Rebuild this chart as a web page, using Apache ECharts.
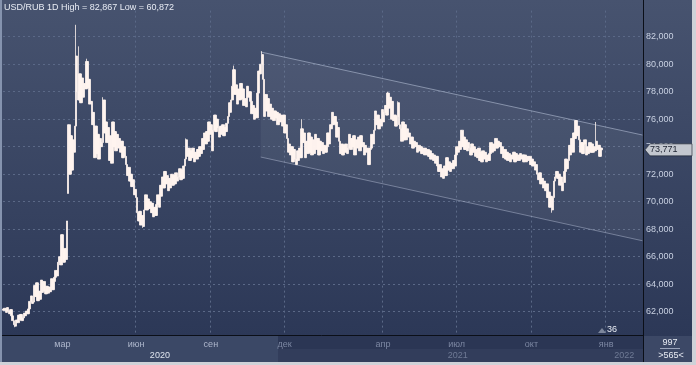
<!DOCTYPE html>
<html>
<head>
<meta charset="utf-8">
<script src="https://cdn.jsdelivr.net/npm/echarts@6/dist/echarts.min.js"></script>
<style>
html,body{margin:0;padding:0;background:#cfd2d8;}
#c{width:696px;height:365px;}
</style>
</head>
<body>
<div id="c"></div>
<script>
// ---- data ----
const startDate = '2019-12-19';   // first trading day shown
const slotCount = 565;            // visible bar slots (data + right offset)
const firstOpen = 62.20;
const closes = [
62.10,62.25,61.95,62.30,62.05,61.85,62.15,61.70,61.35,61.05,
60.95,61.40,61.20,61.75,61.45,61.80,61.35,61.55,61.90,61.70,
62.05,61.85,62.20,62.75,63.15,62.60,62.70,63.90,63.10,64.10,
62.80,63.50,62.90,64.30,63.40,64.20,63.50,63.30,63.85,63.35,
63.80,63.45,64.40,63.60,64.20,64.50,65.00,64.60,65.60,66.00,
65.40,67.60,66.40,65.60,66.60,65.80,68.60,75.60,72.00,74.80,
72.30,74.50,73.60,75.50,80.60,78.00,77.40,79.30,77.20,79.00,
77.60,78.60,78.20,80.20,78.30,78.90,77.10,77.30,75.60,76.50,
73.20,75.50,73.50,74.90,73.10,74.60,74.00,74.30,77.40,75.00,
75.80,74.30,75.40,73.00,74.80,72.80,75.80,74.00,75.10,73.70,
74.90,73.90,74.60,73.60,74.40,73.20,74.00,73.30,72.70,71.90,
72.50,71.50,72.00,71.10,71.60,70.50,70.90,70.30,69.20,68.60,
69.30,68.30,69.00,68.20,69.40,70.50,69.40,70.20,69.50,70.00,
69.20,69.90,68.90,69.60,69.00,69.80,70.50,69.60,71.20,70.40,
71.80,71.00,72.20,71.30,71.90,70.80,71.70,71.00,72.00,71.20,
71.90,71.30,72.10,71.50,71.80,72.40,71.60,72.30,71.70,72.60,
73.10,74.50,73.30,73.90,73.00,73.70,73.20,73.90,72.90,73.60,
73.10,73.80,73.30,74.00,73.50,74.60,73.80,75.00,74.20,75.10,
74.40,75.80,74.90,75.60,73.70,75.20,76.30,75.10,76.00,75.40,
74.70,75.50,74.90,75.60,74.80,75.40,75.10,75.70,76.20,77.20,
76.50,77.40,78.40,79.60,77.80,78.50,77.10,78.20,77.40,78.60,
77.50,78.20,77.00,77.50,76.90,78.40,77.60,78.00,77.30,76.40,
77.00,76.00,76.80,76.10,77.90,79.50,79.30,80.00,80.70,78.90,
76.20,77.80,76.60,77.50,76.20,77.10,76.00,76.80,75.90,76.60,
76.10,76.50,75.60,76.40,75.80,76.30,75.50,76.30,75.00,75.60,
74.60,73.60,74.20,73.40,74.00,72.90,73.80,73.10,72.70,73.70,
73.00,73.90,73.20,75.30,74.30,75.00,73.20,74.40,73.50,75.00,
73.60,74.70,73.40,74.50,73.50,74.90,73.80,74.60,73.40,74.40,
73.70,74.30,73.50,74.10,73.60,74.00,75.00,74.20,75.60,75.30,
76.50,75.60,76.20,75.80,74.70,75.40,74.40,73.50,74.20,73.40,
74.10,73.60,74.20,73.50,73.90,74.90,73.80,74.60,74.00,74.80,
73.40,74.50,73.90,74.70,73.70,74.80,74.00,74.30,73.40,74.10,
73.60,73.90,72.70,73.80,73.90,74.90,74.20,75.20,76.60,75.60,
76.30,75.30,76.00,75.50,76.70,75.80,76.50,77.00,76.30,77.90,
76.80,77.60,76.00,77.30,75.90,76.30,75.50,76.20,77.20,75.60,
75.30,74.40,75.80,74.50,75.60,74.50,75.30,74.70,75.00,74.20,
74.70,73.90,74.40,74.00,74.30,73.60,74.10,73.70,74.00,73.50,
73.90,73.40,73.90,73.40,73.80,73.30,73.70,73.10,73.50,73.00,
73.40,72.80,73.30,72.60,72.20,72.70,71.80,72.40,71.70,72.60,
71.90,73.20,72.30,72.90,72.20,72.80,72.40,73.00,72.60,73.40,
74.00,73.60,74.40,73.80,75.20,74.00,74.70,73.80,74.50,73.70,
74.30,73.90,73.40,74.20,73.60,74.00,73.30,73.80,73.20,73.90,
73.00,73.60,72.90,73.70,73.10,73.60,72.90,73.40,73.00,73.50,
74.30,73.60,74.20,73.70,74.60,73.90,74.40,74.00,74.30,73.50,
74.00,73.20,73.80,73.10,73.60,73.00,73.50,72.90,73.40,73.10,
73.60,72.90,73.50,73.00,73.40,73.00,73.50,73.10,73.40,72.90,
73.40,72.90,73.30,73.00,73.30,72.70,73.10,72.60,72.90,72.30,
72.70,72.00,71.60,72.10,71.30,71.70,71.00,71.50,70.80,71.30,
70.30,70.70,69.60,70.40,69.40,70.30,71.50,71.80,72.20,71.70,
72.00,71.20,71.80,70.80,71.40,72.20,73.10,72.40,73.00,74.10,
73.40,74.60,73.60,75.00,74.60,75.90,74.80,75.50,74.50,73.60,
74.30,73.50,74.20,74.50,73.40,74.00,73.50,74.30,73.60,74.20,
73.60,74.00,73.70,74.40,73.80,74.10,73.30,73.90,73.771
];
const gapOpens = {57: 70.60};
const wickHighs = {64: 82.867, 66: 81.30, 73: 80.40, 88: 77.60, 161: 74.60, 203: 79.90, 228: 80.95, 263: 76.00, 339: 78.00, 348: 77.30, 505: 75.95, 523: 75.80};
const wickLows = {10: 60.872, 484: 69.20, 123: 68.10};
const channelUpper = [[227, 80.89], [564, 74.85]];
const channelLower = [[227, 73.25], [564, 67.16]];
const monthTicks = [['2020-03-02','мар'],['2020-06-01','июн'],['2020-09-01','сен'],['2020-12-01','дек'],
                    ['2021-04-01','апр'],['2021-07-01','июл'],['2021-10-01','окт'],['2022-01-03','янв']];
const brightMonths = ['мар','июн','сен'];
const yearTicks = [[138,'2020'],[401,'2021'],[548,'2022']];
const title = 'USD/RUB 1D High = 82,867 Low = 60,872';
const rightOffsetLabel = '36';
const barsTotal = '997';
const barsVisible = '>565<';

// ---- build ----
function buildCategories() {
  const out = [];
  const d = new Date(startDate + 'T00:00:00Z');
  while (out.length < slotCount) {
    const w = d.getUTCDay();
    if (w !== 0 && w !== 6) out.push(d.toISOString().slice(0, 10));
    d.setUTCDate(d.getUTCDate() + 1);
  }
  return out;
}
const categories = buildCategories();
const candles = closes.map((c, i) => {
  const o = gapOpens[i] !== undefined ? gapOpens[i] : (i === 0 ? firstOpen : closes[i - 1]);
  let lo = Math.min(o, c), hi = Math.max(o, c);
  if (wickHighs[i] !== undefined) hi = Math.max(hi, wickHighs[i]);
  if (wickLows[i] !== undefined) lo = Math.min(lo, wickLows[i]);
  return [o, c, lo, hi];
});
const monthIdx = {};
monthTicks.forEach(t => { monthIdx[categories.indexOf(t[0])] = t[1]; });
const yearIdx = {};
yearTicks.forEach(t => { yearIdx[t[0]] = t[1]; });
const fmt = v => v.toFixed(3).replace('.', ',');
const FONT = 'Liberation Sans';
const F9 = '9px "' + FONT + '"';
const lastClose = closes[closes.length - 1];

const chart = echarts.init(document.getElementById('c'), null, {renderer: 'canvas'});
const gridLine = {show: true, showMinLine: false, showMaxLine: false, lineStyle: {color: '#5b6987', type: [2, 3], width: 1}};
const staticGraphics = [
  {type: 'rect', z: -20, silent: true, shape: {x: 0, y: 0, width: 692, height: 336},
   style: {fill: new echarts.graphic.LinearGradient(0, 0, 0, 1, [{offset: 0, color: '#47536f'}, {offset: 1, color: '#2c3857'}])}},
  {type: 'rect', z: -20, silent: true, shape: {x: 0, y: 336, width: 278, height: 26}, style: {fill: '#3b4866'}},
  {type: 'rect', z: -20, silent: true, shape: {x: 278, y: 336, width: 365, height: 13}, style: {fill: '#2b3654'}},
  {type: 'rect', z: -20, silent: true, shape: {x: 278, y: 349, width: 365, height: 13}, style: {fill: '#323d5b'}},
  {type: 'rect', z: -20, silent: true, shape: {x: 644, y: 336, width: 48, height: 26}, style: {fill: '#3c4866'}},
  {type: 'line', z: 50, silent: true, shape: {x1: 0, y1: 335.5, x2: 643, y2: 335.5}, style: {stroke: '#0b0f18', lineWidth: 1}},
  {type: 'line', z: 50, silent: true, shape: {x1: 643.5, y1: 0, x2: 643.5, y2: 362}, style: {stroke: '#0b0f18', lineWidth: 1}},
  {type: 'line', z: 50, silent: true, shape: {x1: 1, y1: 0, x2: 1, y2: 362}, style: {stroke: '#8593ae', lineWidth: 2}},
  {type: 'text', z: 50, silent: true, style: {text: title, x: 4, y: 8, fill: '#e8ecf4', font: F9, verticalAlign: 'middle'}},
  {type: 'polygon', z: 50, silent: true, shape: {points: [[598, 333], [602, 328], [606, 333]]}, style: {fill: '#7d879c'}},
  {type: 'text', z: 50, silent: true, style: {text: rightOffsetLabel, x: 607, y: 330, fill: '#e8ecf4', font: F9, verticalAlign: 'middle'}},
  {type: 'text', z: 50, silent: true, style: {text: barsTotal, x: 670, y: 343, fill: '#e8ecf4', font: F9, align: 'center', verticalAlign: 'middle'}},
  {type: 'line', z: 50, silent: true, shape: {x1: 660, y1: 348.5, x2: 680, y2: 348.5}, style: {stroke: '#9aa4bb', lineWidth: 1}},
  {type: 'text', z: 50, silent: true, style: {text: barsVisible, x: 671, y: 356, fill: '#e8ecf4', font: F9, align: 'center', verticalAlign: 'middle'}}
];
chart.setOption({
  animation: false,
  backgroundColor: '#cfd2d8',
  textStyle: {fontFamily: FONT},
  grid: {left: 3, right: 53, top: 10.6, bottom: 30, containLabel: false},
  xAxis: [{
    type: 'category', data: categories, boundaryGap: true,
    axisLine: {show: false}, axisTick: {show: false},
    splitLine: Object.assign({}, gridLine, {interval: (i) => monthIdx[i] !== undefined}),
    axisLabel: {
      interval: (i) => monthIdx[i] !== undefined, margin: 5, fontSize: 9, fontFamily: FONT,
      formatter: (v, i) => { const m = monthIdx[i]; return brightMonths.indexOf(m) >= 0 ? '{b|' + m + '}' : '{d|' + m + '}'; },
      rich: {b: {color: '#aeb7cc', fontSize: 9, fontFamily: FONT}, d: {color: '#7c87a2', fontSize: 9, fontFamily: FONT}}
    }
  }, {
    type: 'category', data: categories, boundaryGap: true, position: 'bottom',
    axisLine: {show: false}, axisTick: {show: false}, splitLine: {show: false},
    axisLabel: {
      interval: (i) => yearIdx[i] !== undefined, margin: 16, fontSize: 9, fontFamily: FONT,
      formatter: (v, i) => yearIdx[i] === '2020' ? '{b|2020}' : '{d|' + yearIdx[i] + '}',
      rich: {b: {color: '#dfe4ee', fontSize: 9, fontFamily: FONT}, d: {color: '#6f7a95', fontSize: 9, fontFamily: FONT}}
    }
  }],
  yAxis: {
    type: 'value', position: 'right', min: 60.305, max: 83.9, splitNumber: 12, scale: true,
    axisLine: {show: false}, axisTick: {show: false},
    splitLine: gridLine,
    axisLabel: {margin: 3, fontSize: 9, color: '#c9d1e2', fontFamily: FONT, formatter: fmt,
      showMinLabel: false, showMaxLabel: false}
  },
  series: [{
    type: 'custom', z: 1, clip: true, silent: true, data: [[0]],
    renderItem: (params, api) => {
      const u0 = api.coord(channelUpper[0]), u1 = api.coord(channelUpper[1]);
      const l0 = api.coord(channelLower[0]), l1 = api.coord(channelLower[1]);
      return {type: 'group', children: [
        {type: 'polygon', shape: {points: [u0, u1, l1, l0]}, style: {fill: 'rgba(255,255,255,0.055)'}},
        {type: 'line', shape: {x1: u0[0], y1: u0[1], x2: u1[0], y2: u1[1]}, style: {stroke: 'rgba(190,200,222,0.55)', lineWidth: 1}},
        {type: 'line', shape: {x1: l0[0], y1: l0[1], x2: l1[0], y2: l1[1]}, style: {stroke: 'rgba(190,200,222,0.45)', lineWidth: 1}}
      ]};
    }
  }, {
    type: 'candlestick', z: 2, data: candles, barWidth: 2,
    itemStyle: {color: '#fff4ef', color0: '#fff4ef', borderColor: '#fff4ef', borderColor0: '#fff4ef', borderWidth: 0.8}
  }],
  graphic: {elements: staticGraphics}
});
// last-price tag placed through the value axis scale
const py = chart.convertToPixel({yAxisIndex: 0}, lastClose);
chart.setOption({graphic: {elements: staticGraphics.concat([
  {type: 'polygon', z: 60, silent: true,
   shape: {points: [[645, py], [650, py - 6], [692, py - 6], [692, py + 6], [650, py + 6]]},
   style: {fill: '#c3c7cf', stroke: '#1a202c', lineWidth: 0.6}},
  {type: 'text', z: 61, silent: true, style: {text: fmt(lastClose), x: 650, y: py, fill: '#1c2230', font: F9, verticalAlign: 'middle'}}
])}});
</script>
</body>
</html>
